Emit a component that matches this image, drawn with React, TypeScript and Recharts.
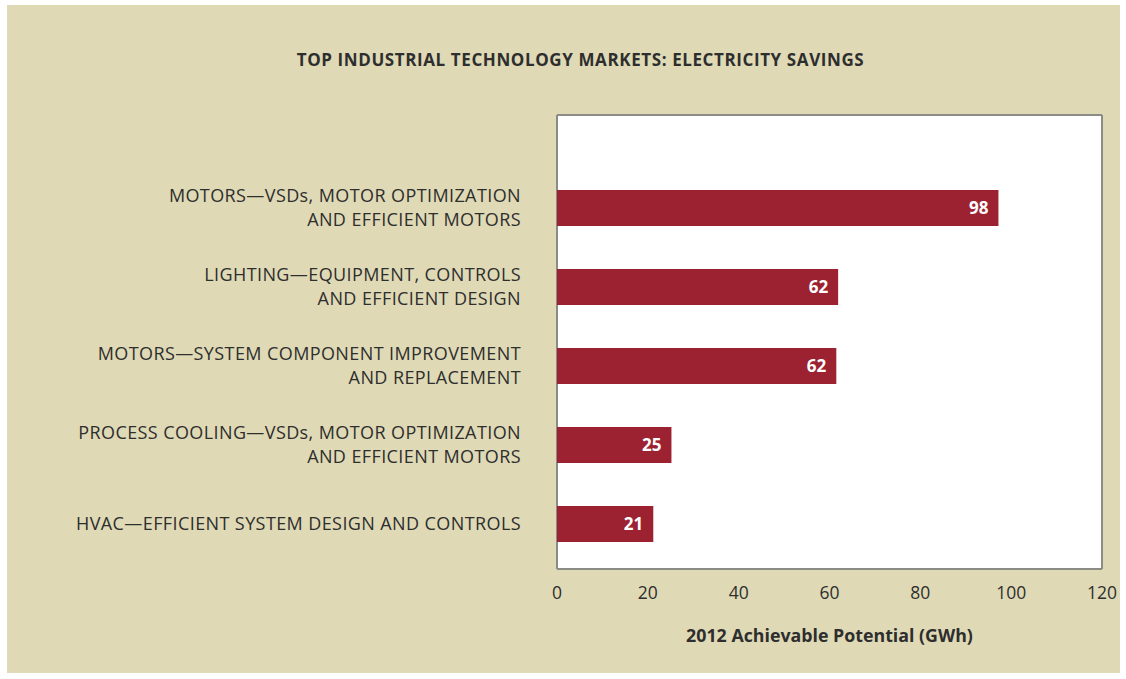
import React from "react";
import { BarChart, Bar, XAxis, YAxis, CartesianGrid, LabelList, Label } from "recharts";

const categories: string[] = [
  "MOTORS—VSDs, MOTOR OPTIMIZATION\nAND EFFICIENT MOTORS",
  "LIGHTING—EQUIPMENT, CONTROLS\nAND EFFICIENT DESIGN",
  "MOTORS—SYSTEM COMPONENT IMPROVEMENT\nAND REPLACEMENT",
  "PROCESS COOLING—VSDs, MOTOR OPTIMIZATION\nAND EFFICIENT MOTORS",
  "HVAC—EFFICIENT SYSTEM DESIGN AND CONTROLS",
];
const values: number[] = [97.2, 61.9, 61.5, 25.2, 21.2];
const valueLabels: string[] = ["98", "62", "62", "25", "21"];
const xTicks: number[] = [0, 20, 40, 60, 80, 100, 120];

const title = "TOP INDUSTRIAL TECHNOLOGY MARKETS: ELECTRICITY SAVINGS";
const xAxisTitle = "2012 Achievable Potential (GWh)";

const data = categories.map((c, i) => ({ name: c, value: values[i], label: valueLabels[i] }));

const FONT = "'Open Sans', 'Noto Sans', sans-serif";
const TEXT = "#2e2e2e";
const BEIGE = "#dfdab5";
const BAR = "#9d2231";
const BORDER = "#8c8c86";

const CategoryTick = (props: any) => {
  const { x, y, payload } = props;
  const lines: string[] = String(payload.value).split("\n");
  const lh = 24;
  const start = -((lines.length - 1) * lh) / 2;
  return (
    <text
      x={x}
      y={y}
      textAnchor="end"
      fill={TEXT}
      fontFamily={FONT}
      fontSize={18}
      letterSpacing={0.4}
    >
      {lines.map((l, i) => (
        <tspan key={i} x={x} y={y + start + i * lh} dy="0.36em">
          {l}
        </tspan>
      ))}
    </text>
  );
};

export default function App() {
  return (
    <div style={{ position: "absolute", left: 0, top: 0, width: 1126, height: 679, background: "#ffffff" }}>
      <div style={{ position: "absolute", left: 7, top: 5, width: 1113, height: 668, background: BEIGE }} />
      <div
        style={{
          position: "absolute",
          left: 0,
          top: 48,
          width: 1161,
          textAlign: "center",
          fontFamily: FONT,
          fontWeight: 700,
          fontSize: 17,
          letterSpacing: 0.6,
          color: TEXT,
          lineHeight: "24px",
        }}
      >
        {title}
      </div>
      <div style={{ position: "absolute", left: 0, top: 0 }}>
        <BarChart
          width={1126}
          height={679}
          data={data}
          layout="vertical"
          margin={{ top: 115, right: 24, bottom: 0, left: 0 }}
          barSize={36}
        >
          <CartesianGrid
            fill="#ffffff"
            stroke={BORDER}
            strokeWidth={2}
            horizontal={true}
            vertical={true}
            verticalCoordinatesGenerator={({ offset }: any) => [offset.left, offset.left + offset.width]}
            horizontalCoordinatesGenerator={({ offset }: any) => [offset.top, offset.top + offset.height]}
          />
          <XAxis
            type="number"
            domain={[0, 120]}
            ticks={xTicks}
            tickLine={false}
            axisLine={false}
            tick={{ fill: TEXT, fontFamily: FONT, fontSize: 17.5 }}
            tickMargin={12}
            height={110}
          >
            <Label
              value={xAxisTitle}
              position="insideBottom"
              offset={37}
              fill={TEXT}
              fontFamily={FONT}
              fontSize={17.8}
              fontWeight={700}
            />
          </XAxis>
          <YAxis
            type="category"
            dataKey="name"
            width={557}
            tickLine={false}
            tickSize={0}
            tickMargin={36}
            axisLine={false}
            tick={<CategoryTick />}
            padding={{ top: 53, bottom: 6 }}
            interval={0}
          />
          <Bar dataKey="value" fill={BAR} isAnimationActive={false}>
            <LabelList
              dataKey="label"
              position="insideRight"
              offset={10}
              fill="#ffffff"
              fontFamily={FONT}
              fontSize={17}
              fontWeight={700}
            />
          </Bar>
        </BarChart>
      </div>
    </div>
  );
}
